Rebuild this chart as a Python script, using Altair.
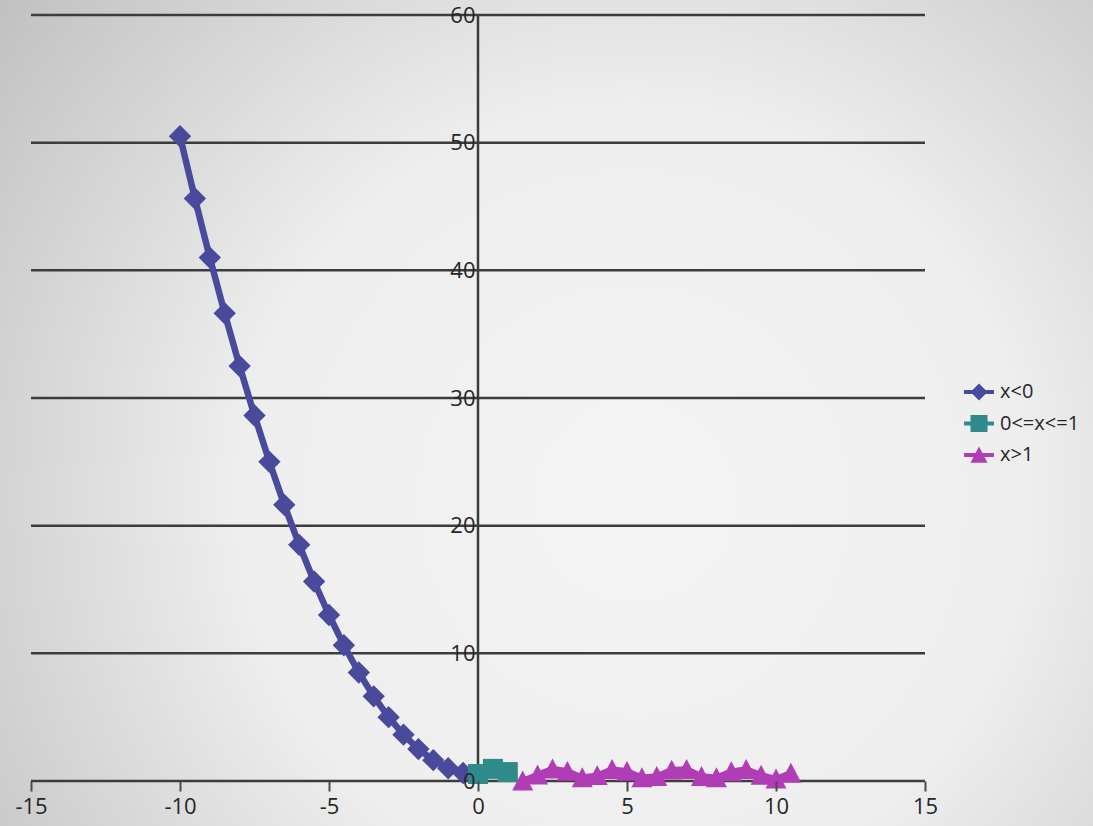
import altair as alt
import pandas as pd

# --- series data --------------------------------------------------------
series_names = ["x<0", "0<=x<=1", "x>1"]
series_colors = ["#4a4a9c", "#2f8a8c", "#b03cb6"]

x_neg = [-10, -9.5, -9, -8.5, -8, -7.5, -7, -6.5, -6, -5.5,
         -5, -4.5, -4, -3.5, -3, -2.5, -2, -1.5, -1, -0.5]
y_neg = [50.5, 45.63, 41.0, 36.63, 32.5, 28.63, 25.0, 21.63, 18.5, 15.63,
         13.0, 10.63, 8.5, 6.63, 5.0, 3.63, 2.5, 1.63, 1.0, 0.63]

x_mid = [0, 0.5, 1]
y_mid = [0.55, 0.95, 0.7]

x_pos = [1.5, 2, 2.5, 3, 3.5, 4, 4.5, 5, 5.5, 6,
         6.5, 7, 7.5, 8, 8.5, 9, 9.5, 10, 10.5]
y_pos = [0.0, 0.47, 0.94, 0.75, 0.25, 0.42, 0.9, 0.75, 0.25, 0.35,
         0.85, 0.9, 0.35, 0.25, 0.72, 0.9, 0.45, 0.15, 0.6]

# --- axes ---------------------------------------------------------------
x_ticks = [-15, -10, -5, 0, 5, 10, 15]
y_ticks = [0, 10, 20, 30, 40, 50, 60]

FONT = "Open Sans"
W, H = 894, 766
PAD = {"left": 31, "top": 15, "right": 168, "bottom": 45}

tables = {
    series_names[0]: pd.DataFrame({"x": x_neg, "y": y_neg}),
    series_names[1]: pd.DataFrame({"x": x_mid, "y": y_mid}),
    series_names[2]: pd.DataFrame({"x": x_pos, "y": y_pos}),
}

x_scale = alt.Scale(domain=[-15, 15], nice=False, zero=False)
y_scale = alt.Scale(domain=[0, 60], nice=False)

x_axis = alt.Axis(values=x_ticks, title=None, domain=False, grid=False,
                  tickSize=10, tickWidth=2, tickColor="#4a4a4a",
                  labelFont=FONT, labelFontSize=22, labelColor="#262626",
                  labelPadding=5, labelFlush=False, labelOverlap=False,
                  labelExpr="'' + datum.value", zindex=1)
y_axis = alt.Axis(values=y_ticks, title=None, domain=False, grid=False,
                  ticks=False, offset=-W / 2,
                  labelFont=FONT, labelFontSize=22, labelColor="#262626",
                  labelPadding=3, labelOverlap=False, zindex=1)

X = alt.X("x:Q", scale=x_scale, axis=x_axis)
Y = alt.Y("y:Q", scale=y_scale, axis=y_axis)

# soft radial backdrop behind everything
backdrop = alt.Chart(alt.Data(values=[{}])).mark_rect(
    clip=False,
    fill=alt.RadialGradient(
        gradient="radial", x1=0.58, y1=0.58, r1=0, x2=0.58, y2=0.58, r2=0.8,
        stops=[alt.GradientStop(offset=0, color="#f4f4f4"),
               alt.GradientStop(offset=0.45, color="#eeeeee"),
               alt.GradientStop(offset=1, color="#b9b9b9")]),
).encode(
    x=alt.value(-PAD["left"]), x2=alt.value(W + PAD["right"]),
    y=alt.value(-PAD["top"]), y2=alt.value(H + PAD["bottom"]),
)

# horizontal gridlines (the one at 0 doubles as the x axis line)
grid = alt.Chart(pd.DataFrame({"g": y_ticks})).mark_rule(
    color="#3c3c3c", strokeWidth=2.5
).encode(y=alt.Y("g:Q", scale=y_scale, axis=y_axis))

# vertical axis line through x = 0
y_line = alt.Chart(alt.Data(values=[{}])).mark_rule(
    color="#3c3c3c", strokeWidth=2.5
).encode(x=alt.datum(0, scale=x_scale, axis=x_axis))

marker_style = {
    series_names[0]: ("diamond", 500),
    series_names[1]: ("square", 400),
    series_names[2]: ("M0,-1L1,0.9L-1,0.9Z", 440),
}

series_layers = []
for name, color in zip(series_names, series_colors):
    shape, size = marker_style[name]
    base = alt.Chart(tables[name]).encode(x=X, y=Y)
    series_layers.append(
        base.mark_line(color=color, strokeWidth=6.5, strokeJoin="round")
    )
    series_layers.append(
        base.mark_point(shape=shape, size=size, filled=True, opacity=1,
                        color=color)
    )

# legend glyphs: a short line segment through each marker
legend_paths = [
    "M-1.76,-0.235L-0.765,-0.235L0,-1L0.765,-0.235L1.76,-0.235L1.76,0.235"
    "L0.765,0.235L0,1L-0.765,0.235L-1.76,0.235Z",
    "M-1.76,-0.235L-1,-0.235L-1,-1L1,-1L1,-0.235L1.76,-0.235L1.76,0.235"
    "L1,0.235L1,1L-1,1L-1,0.235L-1.76,0.235Z",
    "M-1.76,-0.235L-0.403,-0.235L0,-1L0.403,-0.235L1.76,-0.235L1.76,0.235"
    "L0.65,0.235L1,0.9L-1,0.9L-0.65,0.235L-1.76,0.235Z",
]
legend = alt.Legend(
    title=None, orient="none", legendX=938, legendY=367, padding=0,
    labelFont=FONT, labelFontSize=20, labelColor="#262626",
    labelOffset=11, rowPadding=11.5, symbolSize=289, symbolStrokeWidth=0,
)
legend_layer = alt.Chart(pd.DataFrame({"series": series_names})).mark_point(
    filled=True, opacity=1, size=289, clip=True
).encode(
    x=alt.value(-200), y=alt.value(-200),
    color=alt.Color("series:N",
                    scale=alt.Scale(domain=series_names, range=series_colors),
                    legend=legend),
    shape=alt.Shape("series:N",
                    scale=alt.Scale(domain=series_names, range=legend_paths),
                    legend=legend),
)

chart = alt.layer(
    backdrop, grid, y_line, *series_layers, legend_layer
).properties(
    width=W, height=H, padding=PAD, autosize=alt.AutoSizeParams(type="none"),
    background="#e8e8e8",
).configure_view(stroke=None)

chart.save("out.html", embed_options={"renderer": "svg", "actions": False})
